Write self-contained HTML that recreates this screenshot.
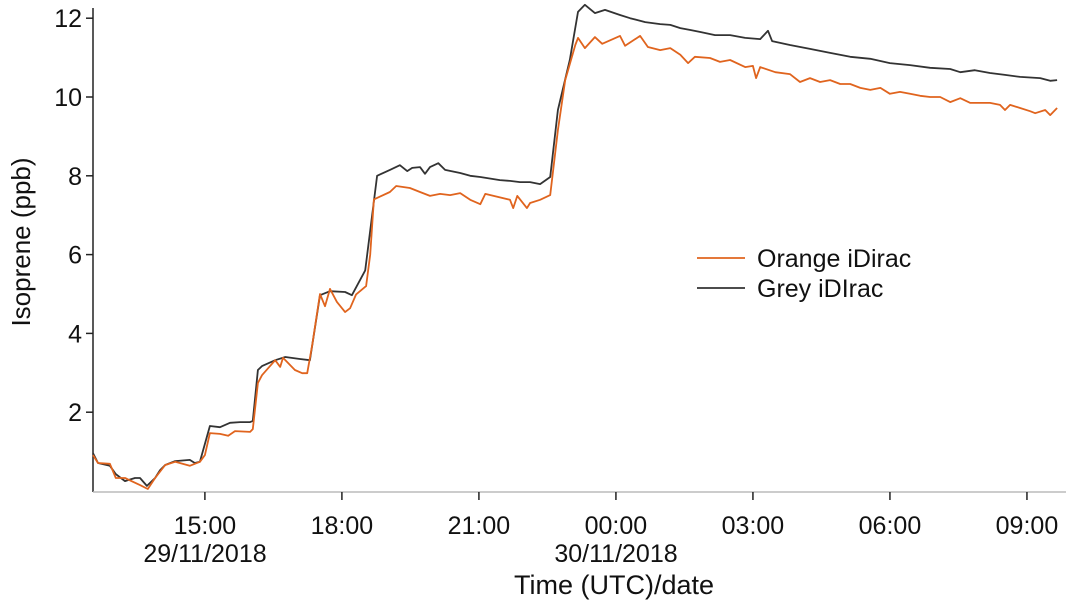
<!DOCTYPE html>
<html><head><meta charset="utf-8"><style>
html,body{margin:0;padding:0;background:#fff;}
svg{display:block;font-family:"Liberation Sans",sans-serif;}
</style></head><body>
<svg id="chart" width="1072" height="600">
<g id="axes"></g><g id="series"></g>
<g>
<line x1="697" y1="258" x2="745" y2="258" stroke="#e0641e" stroke-width="1.8"/>
<text x="757" y="267" font-size="25" fill="#111">Orange iDirac</text>
<line x1="697" y1="288" x2="745" y2="288" stroke="#333" stroke-width="1.8"/>
<text x="757" y="297" font-size="25" fill="#111">Grey iDIrac</text>
</g>
<text x="30" y="242" font-size="26" text-anchor="middle" transform="rotate(-90 30 242)" fill="#111">Isoprene (ppb)</text>
<text x="614" y="594" font-size="27" text-anchor="middle" fill="#111">Time (UTC)/date</text>
<text x="205" y="562" font-size="25" text-anchor="middle" fill="#111">29/11/2018</text>
<text x="616" y="562" font-size="25" text-anchor="middle" fill="#111">30/11/2018</text>
</svg>
<script>
const yTicks=[2,4,6,8,10,12];
const xTicks=[15,18,21,24,27,30,33];
const xTickLabels=["15:00","18:00","21:00","00:00","03:00","06:00","09:00"];
const orangeT=[12.55,12.66,12.92,13.05,13.25,13.58,13.75,13.91,14.13,14.35,14.67,14.89,15.00,15.11,15.33,15.51,15.66,15.99,16.05,16.16,16.25,16.54,16.65,16.71,16.97,17.13,17.24,17.35,17.52,17.63,17.74,17.89,18.07,18.18,18.31,18.53,18.62,18.70,19.05,19.19,19.49,19.71,19.93,20.15,20.37,20.59,20.81,21.03,21.14,21.68,21.75,21.84,22.05,22.12,22.34,22.56,22.73,22.89,23.11,23.17,23.32,23.54,23.70,24.09,24.20,24.53,24.70,24.97,25.19,25.41,25.58,25.73,26.06,26.28,26.50,26.83,27.00,27.07,27.16,27.49,27.81,28.03,28.25,28.47,28.69,28.91,29.13,29.35,29.57,29.79,30.00,30.22,30.44,30.66,30.88,31.10,31.32,31.54,31.76,31.98,32.19,32.41,32.52,32.63,32.85,33.07,33.18,33.40,33.51,33.66];
const orangeV=[0.91,0.71,0.69,0.33,0.33,0.15,0.05,0.33,0.66,0.74,0.64,0.74,0.91,1.47,1.45,1.40,1.52,1.50,1.57,2.74,2.94,3.32,3.15,3.38,3.07,2.99,2.99,3.70,5.00,4.69,5.13,4.80,4.54,4.64,4.99,5.20,6.00,7.40,7.59,7.74,7.69,7.59,7.49,7.54,7.51,7.56,7.39,7.28,7.54,7.39,7.18,7.49,7.18,7.31,7.39,7.51,9.16,10.43,11.32,11.50,11.24,11.52,11.35,11.55,11.30,11.55,11.27,11.19,11.24,11.07,10.86,11.02,10.99,10.89,10.94,10.76,10.79,10.48,10.76,10.63,10.58,10.38,10.48,10.38,10.43,10.33,10.33,10.23,10.18,10.23,10.08,10.13,10.08,10.03,10.00,10.00,9.87,9.97,9.85,9.85,9.85,9.80,9.67,9.80,9.72,9.64,9.59,9.67,9.54,9.72];
const greyT=[12.55,12.66,12.92,13.05,13.25,13.47,13.58,13.73,13.91,14.02,14.13,14.35,14.67,14.78,14.89,15.11,15.33,15.55,15.77,15.99,16.05,16.16,16.25,16.54,16.76,17.08,17.30,17.52,17.74,18.07,18.22,18.51,18.77,19.05,19.27,19.43,19.54,19.71,19.82,19.93,20.11,20.26,20.59,20.81,21.03,21.46,21.68,21.90,22.12,22.34,22.56,22.73,22.99,23.17,23.32,23.54,23.76,24.09,24.31,24.64,24.97,25.19,25.41,25.63,25.85,26.17,26.50,26.83,27.16,27.33,27.42,27.81,28.25,28.69,29.13,29.57,30.00,30.44,30.88,31.32,31.54,31.86,32.19,32.52,32.85,33.29,33.51,33.66];
const greyV=[0.96,0.71,0.64,0.43,0.25,0.33,0.33,0.13,0.33,0.53,0.66,0.76,0.79,0.71,0.74,1.65,1.62,1.73,1.75,1.75,1.78,3.07,3.17,3.32,3.40,3.35,3.32,4.97,5.07,5.05,4.97,5.60,8.00,8.15,8.27,8.12,8.20,8.22,8.05,8.22,8.32,8.15,8.07,8.00,7.97,7.89,7.87,7.84,7.84,7.79,7.97,9.67,10.94,12.16,12.34,12.13,12.21,12.08,12.00,11.90,11.85,11.83,11.75,11.70,11.65,11.57,11.57,11.50,11.47,11.68,11.42,11.32,11.22,11.12,11.02,10.97,10.86,10.81,10.74,10.71,10.63,10.68,10.61,10.56,10.51,10.48,10.41,10.43];

const NS="http://www.w3.org/2000/svg";
const X0=93, T0=12.55, PXH=45.67, Y0=491, PXV=39.4;
function xs(t){return X0+(t-T0)*PXH;}
function ys(v){return Y0-v*PXV;}
function mk(tag,attrs,parent){const e=document.createElementNS(NS,tag);for(const k in attrs)e.setAttribute(k,attrs[k]);parent.appendChild(e);return e;}
const axes=document.getElementById('axes');
let el=mk('line',{x1:X0,y1:8,x2:X0,y2:492,stroke:'#222','stroke-width':1.5},axes);


el=mk('line',{x1:X0,y1:492,x2:1066,y2:492,stroke:'#bbb','stroke-width':1.5},axes);


yTicks.forEach(v=>{
  const y=ys(v);
  const t=mk('line',{x1:X0-7,y1:y,x2:X0,y2:y,stroke:'#222','stroke-width':1.5},axes);
  
  
  const l=mk('text',{x:82,y:y+9,'font-size':25,'text-anchor':'end',fill:'#111'},axes);
  l.textContent=v;
  
  
});
xTicks.forEach((h,i)=>{
  const x=xs(h);
  const t=mk('line',{x1:x,y1:492,x2:x,y2:500,stroke:'#222','stroke-width':1.5},axes);
  
  
  const l=mk('text',{x:x,y:534,'font-size':25,'text-anchor':'middle',fill:'#111'},axes);
  l.textContent=xTickLabels[i];
  
  
});
const ser=document.getElementById('series');
function line(T,V,color,name){
  const d=T.map((t,i)=>(i?'L':'M')+xs(t).toFixed(1)+','+ys(V[i]).toFixed(1)).join('');
  const p=mk('path',{d:d,fill:'none',stroke:color,'stroke-width':1.8,'stroke-linejoin':'round'},ser);
  
  
}
line(greyT,greyV,'#333','grey-idirac-line');
line(orangeT,orangeV,'#e0641e','orange-idirac-line');
</script>
</body></html>
